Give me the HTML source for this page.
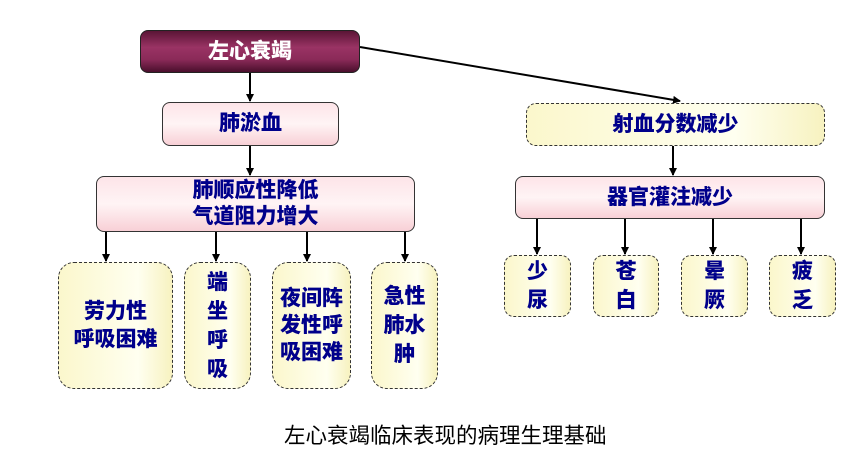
<!DOCTYPE html>
<html><head><meta charset="utf-8"><style>
body{margin:0;width:861px;height:452px;background:#fff;position:relative;overflow:hidden;font-family:"Liberation Sans","Noto Sans CJK SC",sans-serif;}
.b{position:absolute;box-sizing:border-box;display:flex;align-items:center;justify-content:center;text-align:center;font-weight:900;color:#00008b;font-size:21px;line-height:24px;}
.pink{background:linear-gradient(#fde4e8,#fff4f5 50%,#f8d0d6);border:1.5px solid #333;border-radius:8px;}
.yel{background:linear-gradient(90deg,#fbf7cc,#fffff0 70%,#f7f2c0);border:1.5px dashed #333;border-radius:10px;}
.yel2{border-radius:16px;}
.top{background:linear-gradient(#5a1536,#9a3364 40%,#8a2a58 70%,#4a0f2c);border:1.5px solid #222;border-radius:8px;color:#fff;}
svg{position:absolute;left:0;top:0;}
.cap{position:absolute;left:284px;top:419px;font-size:21.5px;color:#000;white-space:nowrap;}
</style></head><body>
<svg width="861" height="452">
<defs><marker id="a" markerWidth="8" markerHeight="8" refX="7" refY="4" orient="auto" markerUnits="userSpaceOnUse"><path d="M0,0 L8,4 L0,8 z" fill="#000"/></marker></defs>
<g stroke="#000" stroke-width="2" marker-end="url(#a)">
<line x1="250" y1="72" x2="250" y2="101"/>
<line x1="250" y1="145" x2="250" y2="175"/>
<line x1="360" y1="47" x2="680" y2="101"/>
<line x1="673" y1="145" x2="673" y2="175"/>
<line x1="106" y1="231" x2="106" y2="261"/>
<line x1="216" y1="231" x2="216" y2="261"/>
<line x1="307" y1="231" x2="307" y2="261"/>
<line x1="405" y1="231" x2="405" y2="261"/>
<line x1="537" y1="218" x2="537" y2="254"/>
<line x1="625" y1="218" x2="625" y2="254"/>
<line x1="713" y1="218" x2="713" y2="254"/>
<line x1="801" y1="218" x2="801" y2="254"/>
</g></svg>
<div class="b top" style="left:140px;top:30px;width:220px;height:43px;">左心衰竭</div>
<div class="b pink" style="left:162px;top:102px;width:177px;height:44px;">肺淤血</div>
<div class="b pink" style="left:96px;top:176px;width:319px;height:56px;line-height:26px;">肺顺应性降低<br>气道阻力增大</div>
<div class="b yel yel2" style="left:58px;top:262px;width:115px;height:127px;line-height:28px;">劳力性<br>呼吸困难</div>
<div class="b yel yel2" style="left:184px;top:262px;width:67px;height:127px;line-height:29px;">端<br>坐<br>呼<br>吸</div>
<div class="b yel yel2" style="left:272px;top:262px;width:79px;height:127px;line-height:27px;">夜间阵<br>发性呼<br>吸困难</div>
<div class="b yel yel2" style="left:371px;top:262px;width:67px;height:127px;line-height:29px;">急性<br>肺水<br>肿</div>
<div class="b yel" style="left:526px;top:103px;width:299px;height:43px;">射血分数减少</div>
<div class="b pink" style="left:515px;top:176px;width:310px;height:43px;">器官灌注减少</div>
<div class="b yel" style="left:504px;top:255px;width:67px;height:62px;line-height:29px;">少<br>尿</div>
<div class="b yel" style="left:593px;top:255px;width:66px;height:62px;line-height:29px;">苍<br>白</div>
<div class="b yel" style="left:681px;top:255px;width:67px;height:62px;line-height:29px;">晕<br>厥</div>
<div class="b yel" style="left:769px;top:255px;width:67px;height:62px;line-height:29px;">疲<br>乏</div>
<div class="cap">左心衰竭临床表现的病理生理基础</div>
</body></html>
